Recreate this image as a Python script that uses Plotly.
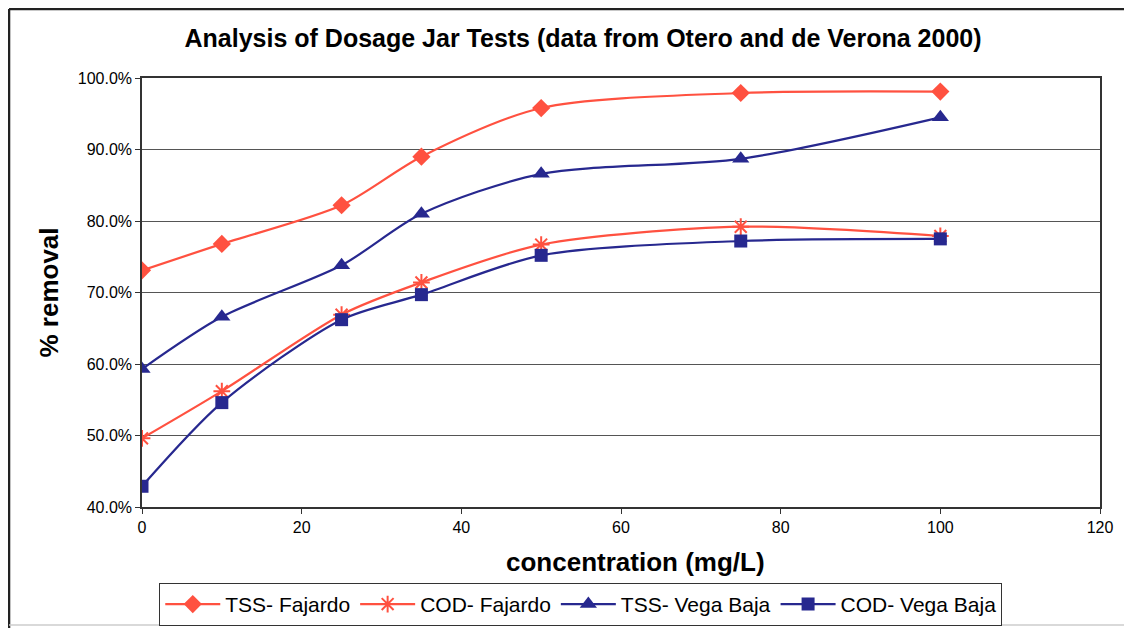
import plotly.graph_objects as go

concentration = [0, 10, 25, 35, 50, 75, 100]
tss_fajardo = [73.1, 76.8, 82.2, 89.0, 95.8, 97.9, 98.1]
cod_fajardo = [49.6, 56.2, 66.9, 71.4, 76.7, 79.2, 77.9]
tss_vega_baja = [59.3, 66.6, 73.8, 81.0, 86.6, 88.7, 94.5]
cod_vega_baja = [42.9, 54.6, 66.2, 69.7, 75.2, 77.2, 77.5]

series_names = ["TSS- Fajardo", "COD- Fajardo", "TSS- Vega Baja", "COD- Vega Baja"]
RED = "#FF5140"
BLUE = "#27288F"

fig = go.Figure()
specs = [
    (series_names[0], tss_fajardo, RED, "diamond", 14),
    (series_names[1], cod_fajardo, RED, "asterisk-open", 14),
    (series_names[2], tss_vega_baja, BLUE, "triangle-up", 15),
    (series_names[3], cod_vega_baja, BLUE, "square", 13),
]
for name, vals, col, sym, sz in specs:
    fig.add_trace(go.Scatter(
        x=concentration, y=[v / 100 for v in vals], name=name,
        mode="lines+markers", line=dict(color=col, width=2.2, shape="spline", smoothing=0.8),
        marker=dict(symbol=sym, size=sz, color=col, line=dict(color=col, width=2 if "asterisk" in sym else 0)),
    ))

# page body has an 8px margin, so the figure is sized/offset accordingly
fig.update_layout(
    width=1124, height=620,
    paper_bgcolor="white", plot_bgcolor="white",
    margin=dict(l=134, r=32, t=70, b=121, autoexpand=False),
    font=dict(family="Liberation Sans, Arial, sans-serif", color="black", size=16),
    title=dict(text="<b>Analysis of Dosage Jar Tests (data from Otero and de Verona 2000)</b>",
               x=0.5116, xanchor="center", y=0.9516, yanchor="middle", font=dict(size=25)),
    showlegend=True,
    legend=dict(orientation="h", x=0.458, xanchor="center", y=-0.177, yanchor="top",
                bordercolor="#333", borderwidth=1, font=dict(size=21), itemwidth=55,
                traceorder="normal"),
    shapes=[
        dict(type="line", xref="paper", yref="paper", x0=-0.1388, x1=-0.1388, y0=1.161, y1=-0.3,
             line=dict(color="#222", width=2.5)),
        dict(type="line", xref="paper", yref="paper", x0=-0.1388, x1=1.05, y0=1.161, y1=1.161,
             line=dict(color="#222", width=2.5)),
        dict(type="line", xref="paper", yref="paper", x0=-0.1388, x1=1.05, y0=-0.275, y1=-0.275,
             line=dict(color="#ccc", width=1.5)),
    ],
    annotations=[
        dict(text="<b>concentration (mg/L)</b>", xref="paper", yref="paper", x=0.515, y=-0.128,
             xanchor="center", yanchor="middle", showarrow=False, font=dict(size=26)),
    ],
)
fig.update_xaxes(range=[0, 120], dtick=20, showgrid=False, showline=True, linecolor="#333",
                 linewidth=1.5, mirror=True, ticks="outside", ticklen=5, tickcolor="#333",
                 zeroline=False, automargin=False)
fig.update_yaxes(range=[0.4, 1.0], dtick=0.1, tickformat=".1%", showgrid=True, gridcolor="#555",
                 gridwidth=1, showline=True, linecolor="#333", linewidth=1.5, mirror=True,
                 ticks="outside", ticklen=5, tickcolor="#333", zeroline=False, automargin=False,
                 title=dict(text="<b>% removal</b>", font=dict(size=26), standoff=12))

fig.write_html("out.html")
